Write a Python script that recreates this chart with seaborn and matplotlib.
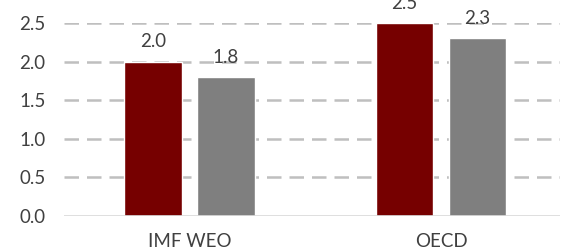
import numpy as np
import pandas as pd
import seaborn as sns
import matplotlib.pyplot as plt

# Data
sources = ["IMF WEO", "OECD"]
series_a = [2.0, 2.5]
series_b = [1.8, 2.3]

df = pd.DataFrame({
    "source": sources * 2,
    "value": series_a + series_b,
    "series": ["A"] * len(sources) + ["B"] * len(sources),
})

# Style
sns.set_style("white")
plt.rcParams['font.family'] = ['Lato', 'DejaVu Sans']

fig = plt.figure(figsize=(5.68, 2.5), dpi=100)
ax = fig.add_axes([63.75 / 568, 34 / 250, (560 - 63.75) / 568, 193 / 250])

sns.barplot(data=df, x="source", y="value", hue="series",
            palette=["#760000", "#7f7f7f"], width=0.58, gap=0.21,
            legend=False, ax=ax, saturation=1)

for c in ax.containers:
    ax.bar_label(c, fmt="%.1f", padding=8, fontsize=13.5, color="#404040")

ax.set_ylim(0, 2.5)
ax.set_xlim(-0.5, 1.473)
ax.set_yticks(np.arange(0, 2.51, 0.5))
ax.set_yticklabels([f"{v:.1f}" for v in np.arange(0, 2.51, 0.5)])
ax.set_xlabel("")
ax.set_ylabel("")

# Gridlines
for y in np.arange(0.5, 2.51, 0.5):
    ax.axhline(y, color="#bfbfbf", lw=1.8, ls=(0, (5.8, 3.2)), zorder=0)
ax.axhline(0, color="#d9d9d9", lw=1.2, zorder=3)

sns.despine(ax=ax, left=True, bottom=True, right=True, top=True)
ax.tick_params(axis="y", length=0, pad=13, labelsize=13.5, labelcolor="#404040")
ax.tick_params(axis="x", length=0, pad=12, labelsize=13.5, labelcolor="#404040")

fig.savefig("out.png", dpi=100)
